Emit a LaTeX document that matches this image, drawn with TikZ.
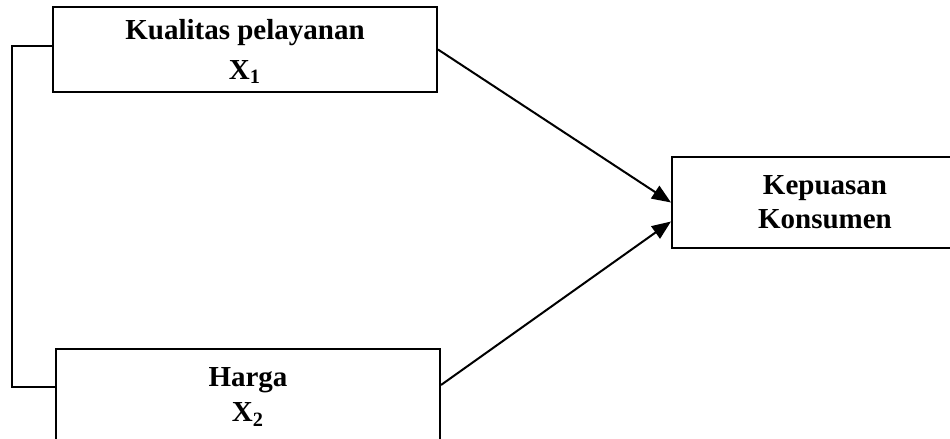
\documentclass[tikz,border=0pt]{standalone}
\usepackage{fontspec}
\setmainfont{Liberation Serif}
\usetikzlibrary{arrows.meta}
\newcommand{\isikotak}[4]{\parbox[c][#2][t]{#1}{\centering\vspace*{#3}#4}}
\begin{document}
\begin{tikzpicture}[x=0.5pt,y=-0.5pt,
  varbox/.style={shape=rectangle,draw=black,line width=1pt,fill=white,inner sep=0pt,
    font=\fontsize{14.5}{17}\selectfont\bfseries},
  panah/.style={line width=1pt,-{Triangle[length=9.5pt,width=7.5pt]}}]
 \useasboundingbox (0,0) rectangle (950,439);
 \clip (0,0) rectangle (950,439);
 \node (kualitas) at (245,49.5) [varbox] {\isikotak{192pt}{42.5pt}{6pt}{Kualitas pelayanan\\[3pt]X\textsubscript{1}}};
 \node (harga) at (248,396.5) [varbox] {\isikotak{192pt}{47.5pt}{9.4pt}{Harga\\[0.5pt]X\textsubscript{2}}};
 \node (kepuasan) at (825,202.5) [varbox] {\isikotak{153pt}{45.5pt}{9.4pt}{Kepuasan\\Konsumen}};
 \draw [panah] (kualitas.east) -- (kepuasan.west);
 \draw [panah] ([yshift=5.75pt]harga.east) -- ([yshift=-9.5pt]kepuasan.west);
 \draw [line width=1pt] ([yshift=2pt]kualitas.west) -- ++(-20pt,0) |- ([yshift=5pt]harga.west);
\end{tikzpicture}
\end{document}
